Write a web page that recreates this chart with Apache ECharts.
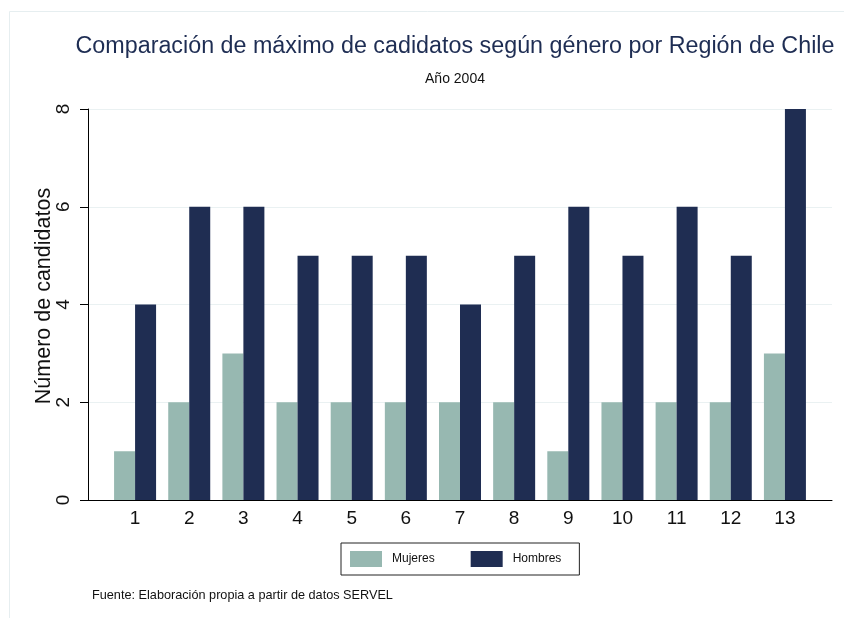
<!DOCTYPE html>
<html>
<head>
<meta charset="utf-8">
<script src="https://cdn.jsdelivr.net/npm/echarts@6/dist/echarts.min.js"></script>
<style>
  html, body { margin: 0; padding: 0; background: #fff; }
  #chart { width: 844px; height: 618px; }
</style>
</head>
<body>
<div id="chart"></div>
<script>
const regiones = ['1', '2', '3', '4', '5', '6', '7', '8', '9', '10', '11', '12', '13']
const mujeres = [1, 2, 3, 2, 2, 2, 2, 2, 1, 2, 2, 2, 3]
const hombres = [4, 6, 6, 5, 5, 5, 4, 5, 6, 5, 6, 5, 8]
const yTicks = [0, 2, 4, 6, 8]

const FONT = 'Liberation Sans, Arial, sans-serif'
const chart = echarts.init(document.getElementById('chart'))

const option = {
  backgroundColor: '#fff',
  animation: false,
  textStyle: { fontFamily: FONT },
  graphic: [
    {
      type: 'rect',
      shape: { x: 9.5, y: 11.5, width: 840, height: 610 },
      style: { fill: 'none', stroke: '#e6eef0', lineWidth: 1 },
      silent: true,
    },
  ],
  title: [
    {
      text: 'Comparación de máximo de cadidatos según género por Región de Chile',
      left: 450, top: 30, textAlign: 'center',
      textStyle: { fontFamily: FONT, fontSize: 23.3, fontWeight: 'normal', color: '#1e2d53' },
    },
    {
      text: 'Año 2004',
      left: 450, top: 67, textAlign: 'center',
      textStyle: { fontFamily: FONT, fontSize: 14, fontWeight: 'normal', color: '#111' },
    },
    {
      text: 'Fuente: Elaboración propia a partir de datos SERVEL',
      left: 87, top: 584,
      textStyle: { fontFamily: FONT, fontSize: 12.7, fontWeight: 'normal', color: '#111' },
    },
  ],
  legend: {
    data: ['Mujeres', 'Hombres'],
    left: 341, top: 543,
    orient: 'horizontal',
    itemWidth: 32, itemHeight: 16, itemGap: 36,
    padding: [8, 18, 8, 9],
    borderColor: '#222', borderWidth: 1,
    icon: 'rect',
    textStyle: { fontFamily: FONT, fontSize: 12, color: '#111', padding: [0, 0, 0, 5] },
  },
  grid: [
    { left: 88, right: 12, top: 109, bottom: 118 },
    { left: 108, right: 32, top: 109, bottom: 118 },
  ],
  xAxis: [
    {
      gridIndex: 0, type: 'value', min: 0, max: 1,
      axisLine: { show: true, lineStyle: { color: '#000', width: 1 } },
      axisTick: { show: false }, axisLabel: { show: false }, splitLine: { show: false },
    },
    {
      gridIndex: 1, type: 'category', data: regiones,
      axisLine: { show: false }, axisTick: { show: false },
      axisLabel: { fontFamily: FONT, fontSize: 19, color: '#111', margin: 9 },
    },
  ],
  yAxis: [
    {
      gridIndex: 0, type: 'value', min: 0, max: 8, interval: 2,
      name: 'Número de candidatos', nameLocation: 'middle', nameGap: 33,
      nameMoveOverlap: false,
      nameTextStyle: { fontFamily: FONT, fontSize: 21.5, color: '#111', padding: [0, 0, 0, 17] },
      axisLine: { show: true, lineStyle: { color: '#000', width: 1 } },
      axisTick: { show: true, length: 8, inside: false, lineStyle: { color: '#000' } },
      axisLabel: {
        fontFamily: FONT, fontSize: 19, color: '#111', rotate: 90, margin: 15,
        formatter: v => (yTicks.includes(v) ? String(v) : ''),
      },
      splitLine: { show: true, lineStyle: { color: '#eaf1f2', width: 1 } },
    },
    {
      gridIndex: 1, type: 'value', min: 0, max: 8, interval: 2, show: false,
    },
  ],
  series: [
    {
      name: 'Mujeres', type: 'bar', xAxisIndex: 1, yAxisIndex: 1,
      data: mujeres, barWidth: 21, barGap: '0%',
      itemStyle: { color: '#97b8b1' },
    },
    {
      name: 'Hombres', type: 'bar', xAxisIndex: 1, yAxisIndex: 1,
      data: hombres, barWidth: 21, barGap: '0%',
      itemStyle: { color: '#1f2d52' },
    },
  ],
}

option && chart.setOption(option)
</script>
</body>
</html>
